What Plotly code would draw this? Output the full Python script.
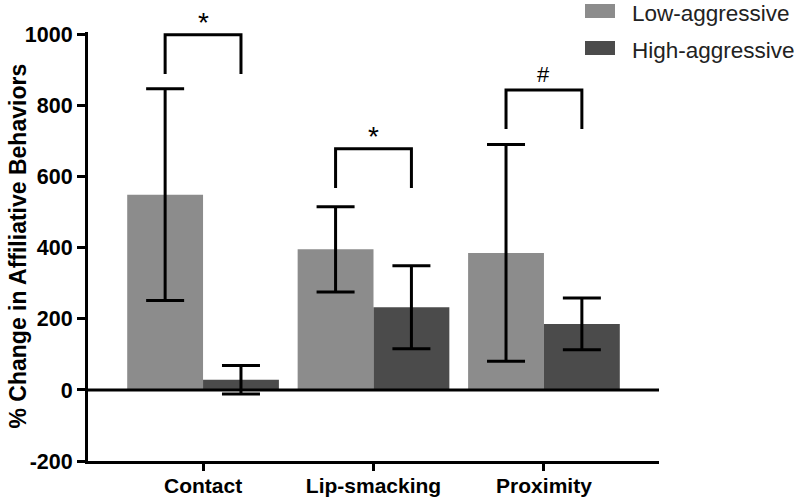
import plotly.graph_objects as go

categories = ["Contact", "Lip-smacking", "Proximity"]
low_mean = [550, 396, 386]
low_err = [298, 120, 305]
high_mean = [29, 233, 186]
high_err = [40, 117, 73]
series_names = ["Low-aggressive", "High-aggressive"]
sig_labels = ["*", "*", "#"]
sig_top = [1000, 679, 845]
sig_leg = [890, 569, 735]
y_ticks = [-200, 0, 200, 400, 600, 800, 1000]
y_tick_text = ["-200", "0", "200", "400", "600", "800", "1000"]

LOW_C = "#8c8c8c"
HIGH_C = "#4b4b4b"
FONT = "Liberation Sans, Arial, sans-serif"

W, H = 800, 499
ML, MR, MT, MB = 88, 141, 32, 38
YR = [-200, 1008]

fig = go.Figure()
for name, vals, errs, col in [(series_names[0], low_mean, low_err, LOW_C),
                              (series_names[1], high_mean, high_err, HIGH_C)]:
    fig.add_trace(go.Bar(
        x=categories, y=vals, name=name, marker=dict(color=col, line=dict(width=0)),
        error_y=dict(type="data", array=errs, visible=True, color="black",
                     thickness=3, width=19),
        showlegend=False,
    ))

fig.update_layout(barmode="group", bargap=0.11, bargroupgap=0)

half = 0.89 / 4
for i, (lab, top, leg) in enumerate(zip(sig_labels, sig_top, sig_leg)):
    x0, x1 = i - half, i + half
    fig.add_trace(go.Scatter(
        x=[x0, x0, x1, x1], y=[leg, top, top, leg], mode="lines",
        line=dict(color="black", width=3), showlegend=False, hoverinfo="skip",
        cliponaxis=False, xaxis="x2",
    ))
    fig.add_annotation(x=i, y=top, xref="x2", yref="y", text=lab, showarrow=False,
                       yanchor="bottom", yshift=-5 if lab == "*" else 1,
                       font=dict(size=28 if lab == "*" else 22, color="black", family=FONT))

# zero line
fig.add_shape(type="line", xref="paper", yref="y", x0=0, x1=1, y0=0, y1=0,
              line=dict(color="black", width=3), layer="above")

# manual legend
pw = W - ML - MR
ph = H - MT - MB
def px2paper(px, py):
    return (px - ML) / pw, (H - MB - py) / ph
for k, (name, col) in enumerate(zip(series_names, [LOW_C, HIGH_C])):
    cy = 11 + k * 37
    x0, y0 = px2paper(585, cy + 7)
    x1, y1 = px2paper(615, cy - 7)
    fig.add_shape(type="rect", xref="paper", yref="paper", x0=x0, x1=x1, y0=y0, y1=y1,
                  fillcolor=col, line=dict(width=0))
    tx, ty = px2paper(631, cy + 2)
    fig.add_annotation(x=tx, y=ty, xref="paper", yref="paper", text=name, showarrow=False,
                       xanchor="left", yanchor="middle", borderpad=0,
                       font=dict(size=22.5, color="#222", family=FONT))

# y-axis title
tx, ty = px2paper(17, (MT + H - MB) / 2)
fig.add_annotation(x=tx, y=ty, xref="paper", yref="paper",
                   text="<b>% Change in Affiliative Behaviors</b>", showarrow=False,
                   textangle=-90, xanchor="center", yanchor="middle",
                   font=dict(size=23, color="black", family=FONT))

fig.update_layout(
    width=W, height=H,
    margin=dict(l=ML, r=MR, t=MT, b=MB),
    plot_bgcolor="white", paper_bgcolor="white",
    font=dict(family=FONT, color="black"),
    xaxis=dict(
        range=[-0.675, 2.675], showline=True, linecolor="black", linewidth=3,
        ticks="outside", ticklen=7, tickwidth=3, tickcolor="black",
        ticklabelstandoff=-3,
        tickfont=dict(size=21, family=FONT, weight="bold", color="black"),
        showgrid=False, zeroline=False, automargin=False,
    ),
    xaxis2=dict(range=[-0.675, 2.675], overlaying="x", visible=False),
    yaxis=dict(
        range=YR, tickvals=y_ticks, ticktext=y_tick_text,
        showline=True, linecolor="black", linewidth=3,
        ticks="outside", ticklen=8, tickwidth=3, tickcolor="black",
        tickfont=dict(size=21.5, family=FONT, weight="bold", color="black"),
        showgrid=False, zeroline=False, automargin=False,
    ),
)

fig.write_html("out.html", config={"displayModeBar": False},
               post_script="document.body.style.margin='0';document.body.style.overflow='hidden';")
